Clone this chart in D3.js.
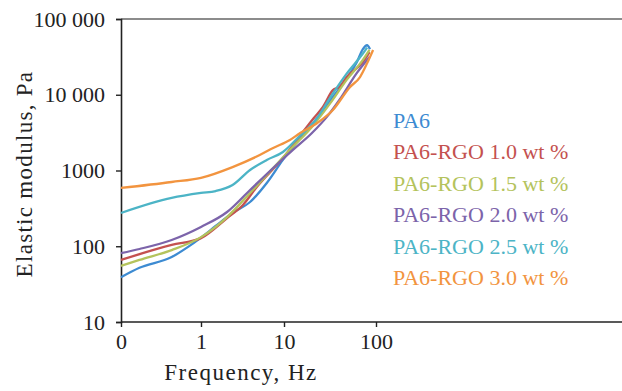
<!DOCTYPE html>
<html>
<head>
<meta charset="utf-8">
<script src="https://cdn.jsdelivr.net/npm/d3@7"></script>
<style>
  body { margin: 0; background: #fff; }
  text { font-family: "Liberation Serif", serif; }
</style>
</head>
<body>
<svg id="chart"></svg>
<script>
// frequency (Hz, 0 plotted at 0.1) vs elastic modulus (Pa)
const freqTicks = [0.1, 1, 10, 100];
const freqTickLabels = ["0", "1", "10", "100"];
const modulusTicks = [10, 100, 1000, 10000, 100000];
const modulusTickLabels = ["10", "100", "1000", "10 000", "100 000"];

const seriesNames = ["PA6", "PA6-RGO 1.0 wt %", "PA6-RGO 1.5 wt %", "PA6-RGO 2.0 wt %", "PA6-RGO 2.5 wt %", "PA6-RGO 3.0 wt %"];
const seriesColors = ["#3d8bd2", "#c4514f", "#b4c35c", "#7c64aa", "#4cb4c6", "#f2943f"];

const pa6 = [[0.1, 39], [0.17, 52], [0.43, 72], [0.69, 98], [1, 130], [1.5, 185], [2.4, 275], [3.9, 384], [6.2, 684], [9.7, 1380], [15, 2700], [21, 4300], [32, 8500], [48, 16500], [62, 27000], [72, 40000], [80, 45000], [86, 40000]];
const rgo10 = [[0.1, 66], [0.43, 104], [1, 128], [2.06, 236], [3.2, 351], [4.7, 606], [9.7, 1460], [15, 2900], [21, 4900], [26.5, 6900], [34, 11500], [40, 12700], [48, 17100], [72, 27000], [85, 36600]];
const rgo15 = [[0.1, 55], [0.17, 66], [0.43, 89], [1, 132], [2.06, 243], [3.9, 505], [7.4, 1080], [11.6, 1870], [21, 4000], [32, 7800], [48, 15700], [72, 28800], [85, 39000]];
const rgo20 = [[0.1, 81], [0.17, 92], [0.43, 121], [1, 180], [2.06, 283], [3.9, 553], [7.4, 1080], [12.5, 1870], [20, 3100], [30, 5300], [40, 8530], [62, 19400], [85, 31500]];
const rgo25 = [[0.1, 275], [0.43, 434], [1, 505], [1.5, 536], [2.4, 644], [3.9, 1016], [6.2, 1376], [9.7, 1755], [15, 2900], [22, 4600], [32, 9300], [48, 19000], [72, 35000], [80, 42000]];
const rgo30 = [[0.1, 588], [0.43, 705], [1, 800], [2.4, 1110], [5.1, 1600], [7.4, 1980], [11.6, 2530], [15, 3130], [23, 4240], [34, 6300], [52, 12600], [67, 17100], [80, 26000], [93, 39000]];

const allSeries = [pa6, rgo10, rgo15, rgo20, rgo25, rgo30];

const width = 622, height = 391;
const plotLeft = 121, plotRight = 622, plotTop = 19, plotBottom = 322;

const svg = d3.select("#chart").attr("width", width).attr("height", height);

const x = d3.scaleLog()
  .domain([0.1, 1, 10, 100])
  .range([121, 201, 284, 376]);

const y = d3.scaleLog()
  .domain([10, 100000])
  .range([plotBottom, plotTop]);

// top frame line
svg.append("line")
  .attr("x1", plotLeft).attr("x2", plotRight)
  .attr("y1", plotTop).attr("y2", plotTop)
  .attr("stroke", "#666").attr("stroke-width", 1.6);

// bottom axis
const xAxis = svg.append("g")
  .attr("transform", "translate(0," + plotBottom + ")")
  .call(d3.axisBottom(x).tickValues(freqTicks).tickFormat((d, i) => freqTickLabels[i]).tickSize(5).tickPadding(6));
xAxis.select(".domain").remove();
xAxis.selectAll("line").attr("stroke", "#222").attr("stroke-width", 1.4);
xAxis.selectAll("text").attr("font-size", 22).attr("fill", "#222");

svg.append("line")
  .attr("x1", plotLeft).attr("x2", plotRight)
  .attr("y1", plotBottom).attr("y2", plotBottom)
  .attr("stroke", "#222").attr("stroke-width", 1.6);

// left axis
const yAxis = svg.append("g")
  .attr("transform", "translate(" + plotLeft + ",0)")
  .call(d3.axisLeft(y).tickValues(modulusTicks).tickFormat((d, i) => modulusTickLabels[i]).tickSize(5).tickPadding(11));
yAxis.select(".domain").attr("stroke", "#222").attr("stroke-width", 1.6);
yAxis.selectAll("line").attr("stroke", "#222").attr("stroke-width", 1.4);
yAxis.selectAll("text").attr("font-size", 22).attr("fill", "#222");

// axis titles
svg.append("text")
  .attr("x", 241).attr("y", 380)
  .attr("text-anchor", "middle")
  .attr("font-size", 23).attr("letter-spacing", 1.5).attr("fill", "#222")
  .text("Frequency, Hz");

svg.append("text")
  .attr("transform", "translate(32,174) rotate(-90)")
  .attr("text-anchor", "middle")
  .attr("font-size", 23).attr("letter-spacing", 1.3).attr("fill", "#222")
  .text("Elastic modulus, Pa");

// curves
const line = d3.line()
  .x(d => x(d[0]))
  .y(d => y(d[1]))
  .curve(d3.curveMonotoneX);

svg.append("g")
  .selectAll("path")
  .data(allSeries)
  .enter().append("path")
  .attr("d", line)
  .attr("fill", "none")
  .attr("stroke", (d, i) => seriesColors[i])
  .attr("stroke-width", 2.3)
  .attr("stroke-linejoin", "round");

// legend (coloured labels only)
svg.append("g")
  .selectAll("text")
  .data(seriesNames)
  .enter().append("text")
  .attr("x", 393)
  .attr("y", (d, i) => 128 + i * 31.4)
  .attr("font-size", 22)
  .attr("fill", (d, i) => seriesColors[i])
  .text(d => d);
</script>
</body>
</html>
